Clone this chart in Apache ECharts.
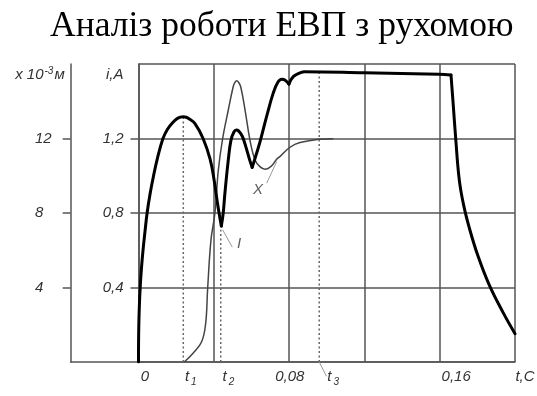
<!DOCTYPE html>
<html>
<head>
<meta charset="utf-8">
<script src="https://cdn.jsdelivr.net/npm/echarts@6.0.0/dist/echarts.min.js"></script>
<style>
  html, body { margin: 0; padding: 0; background: #fff; }
  #chart { width: 537px; height: 396px; }
</style>
</head>
<body>
<div id="chart"></div>
<script>
// --- data ---
const chartTitle = "Аналіз роботи ЕВП з рухомою";

// time axis (s)
const xTickValues = [0, 0.0238, 0.0437, 0.08, 0.096, 0.16, 0.2];
const xTickMain = ["0", "t", "t", "0,08", "t", "0,16", "t,C"];
const xTickSub = ["", "1", "2", "", "3", "", ""];

// current axis (A) and travel axis (x 10^-3 m)
const currentTicks = [0.4, 0.8, 1.2];
const currentTickLabels = ["0,4", "0,8", "1,2"];
const travelTicks = [4, 8, 12];
const travelTickLabels = ["4", "8", "12"];

// current I, [t, A]
const curveI = [
  [0, 0], [0.00003, 0.1], [0.00017, 0.2], [0.00045, 0.3], [0.0009, 0.4],
  [0.00154, 0.5], [0.0024, 0.6], [0.00345, 0.7], [0.00457, 0.8],
  [0.0061, 0.9], [0.008, 1.0], [0.0102, 1.1], [0.013, 1.2],
  [0.0154, 1.25], [0.0181, 1.285], [0.0204, 1.306], [0.0222, 1.315],
  [0.0238, 1.317], [0.0253, 1.314], [0.0268, 1.306], [0.03, 1.28],
  [0.0343, 1.2], [0.038, 1.09], [0.0402, 0.975], [0.042, 0.85],
  [0.044, 0.73], [0.045, 0.8], [0.0459, 0.906], [0.0477, 1.085],
  [0.0491, 1.19], [0.0507, 1.235], [0.052, 1.245], [0.053, 1.242],
  [0.055, 1.215], [0.0566, 1.17], [0.0592, 1.08], [0.0604, 1.045],
  [0.0624, 1.11], [0.0645, 1.18], [0.0681, 1.32], [0.0716, 1.445],
  [0.0741, 1.503], [0.0761, 1.518], [0.0781, 1.512], [0.0799, 1.492],
  [0.0822, 1.532], [0.0858, 1.553], [0.0884, 1.559], [0.1198, 1.553],
  [0.1596, 1.545], [0.166, 1.541], [0.167, 1.407], [0.1685, 1.2],
  [0.1704, 0.978], [0.1728, 0.838], [0.176, 0.71], [0.1803, 0.57],
  [0.1863, 0.414], [0.1937, 0.265], [0.2, 0.152],
];
// cusps of I where the smooth pieces meet
const curveIBreaks = [0.044, 0.0604, 0.0799, 0.166];

// travel X, [t, x10^-3 m / 10]
const curveX = [
  [0.0243, 0], [0.0291, 0.048], [0.0336, 0.11], [0.0357, 0.209],
  [0.0367, 0.388], [0.0385, 0.656], [0.0406, 0.8], [0.0424, 1.03],
  [0.0447, 1.2], [0.0477, 1.353], [0.0503, 1.478], [0.0513, 1.503],
  [0.0522, 1.51], [0.0531, 1.503], [0.0543, 1.478], [0.0566, 1.353],
  [0.0592, 1.192], [0.0619, 1.085], [0.0645, 1.049], [0.0672, 1.035],
  [0.0707, 1.053], [0.0734, 1.089], [0.0751, 1.103], [0.0805, 1.153],
  [0.0858, 1.178], [0.096, 1.196], [0.1035, 1.199],
];

// dotted markers t1, t2, t3
const tMarks = [0.0238, 0.0437, 0.096];
const tMarkTops = [1.317, 0.71, 1.555];

// leader lines and curve names
const leaderLines = [
  [[0.0447, 0.71], [0.0498, 0.617]],
  [[0.0681, 0.96], [0.0734, 1.076]],
  [[0.096, 0], [0.0999, -0.077]],
];
const curveNames = ["I", "X"];
const curveNamePos = [[0.0534, 0.635], [0.0635, 0.927]];

// --- styling ---
const FONT = "Liberation Sans";
const GRID_COLOR = "#555";
const TEXT_COLOR = "#333";
const xLabelShift = [6.5, 7.5, 7.7, 0.7, 14, 16.5, 10];

const textBase = {
  fontFamily: FONT,
  fontStyle: "italic",
  fontSize: 15,
  color: TEXT_COLOR,
};
const lineBase = { color: GRID_COLOR, width: 1.5 };

const xRich = {
  s: { ...textBase, fontSize: 10, lineHeight: 12, verticalAlign: "bottom", padding: [0, 0, 0, 2] },
};
xTickValues.forEach((v, i) => {
  xRich["m" + i] = { ...textBase, lineHeight: 20, padding: [0, 0, 0, 2 * xLabelShift[i]] };
});

function findIndex(list, v) {
  return list.findIndex((d) => Math.abs(d - v) < 1e-9);
}

// split a curve at its cusps so each piece can be smoothed on its own
function splitAt(points, breaks) {
  const pieces = [[]];
  points.forEach((p) => {
    pieces[pieces.length - 1].push(p);
    if (breaks.some((b) => Math.abs(b - p[0]) < 1e-9)) pieces.push([p]);
  });
  return pieces.filter((piece) => piece.length > 1);
}

const chart = echarts.init(document.getElementById("chart"));
chart.setOption({
  animation: false,
  title: {
    text: chartTitle,
    left: 45,
    top: 4,
    textStyle: {
      fontFamily: "Liberation Serif",
      fontSize: 35.5,
      fontWeight: "normal",
      color: "#000",
    },
  },
  grid: [
    { left: 138.5, right: 22, top: 64, bottom: 34, outerBoundsMode: "none" },
    { left: 70.7, width: 67.8, top: 64, bottom: 34, outerBoundsMode: "none" },
  ],
  xAxis: [
    {
      type: "value",
      gridIndex: 0,
      min: 0,
      max: 0.2,
      interval: 0.04,
      axisLine: { show: true, lineStyle: lineBase },
      axisTick: { show: false },
      splitLine: { show: true, lineStyle: lineBase },
      axisLabel: {
        customValues: xTickValues,
        margin: 5,
        formatter: (v) => {
          const i = findIndex(xTickValues, v);
          if (i < 0) return "";
          let s = "{m" + i + "|" + xTickMain[i] + "}";
          if (xTickSub[i]) s += "{s|" + xTickSub[i] + "}";
          return s;
        },
        rich: xRich,
      },
    },
    {
      type: "value",
      gridIndex: 1,
      min: 0,
      max: 1,
      axisLine: { show: true, lineStyle: lineBase },
      axisTick: { show: false },
      axisLabel: { show: false },
      splitLine: { show: false },
    },
  ],
  yAxis: [
    {
      type: "value",
      gridIndex: 0,
      min: 0,
      max: 1.6,
      interval: 0.4,
      name: "i,A",
      nameLocation: "end",
      nameGap: -11,
      nameTextStyle: { ...textBase, align: "right", verticalAlign: "middle", padding: [0, 15, 0, 0] },
      axisLine: { show: true, lineStyle: lineBase },
      axisTick: { show: false },
      splitLine: { show: true, lineStyle: lineBase },
      axisLabel: {
        ...textBase,
        customValues: currentTicks,
        margin: 15,
        padding: [5, 0, 0, 0],
        formatter: (v) => currentTickLabels[findIndex(currentTicks, v)] || "",
      },
    },
    {
      type: "value",
      gridIndex: 1,
      min: 0,
      max: 16,
      name: "{a|x 10}{sup|-3}{a|м}",
      nameLocation: "end",
      nameGap: -11,
      nameTextStyle: {
        align: "right",
        verticalAlign: "middle",
        padding: [0, 6, 0, 0],
        rich: {
          a: { ...textBase, lineHeight: 18 },
          sup: { ...textBase, fontSize: 10, lineHeight: 12, verticalAlign: "top", padding: [0, 1, 0, 1] },
        },
      },
      axisLine: { show: true, lineStyle: lineBase },
      axisTick: { show: true, inside: false, length: 8, customValues: travelTicks, lineStyle: lineBase },
      splitLine: { show: false },
      axisLabel: {
        ...textBase,
        customValues: travelTicks,
        align: "left",
        margin: 35.7,
        padding: [5, 0, 0, 0],
        formatter: (v) => travelTickLabels[findIndex(travelTicks, v)] || "",
      },
    },
    {
      // inner half of the crossing ticks
      type: "value",
      gridIndex: 1,
      min: 0,
      max: 16,
      axisLine: { show: false },
      axisTick: { show: true, inside: true, length: 8, customValues: travelTicks, lineStyle: lineBase },
      splitLine: { show: false },
      axisLabel: { show: false },
    },
  ],
  series: [
    ...tMarks.map((t, i) => ({
      type: "line",
      silent: true,
      showSymbol: false,
      data: [[t, 0], [t, tMarkTops[i]]],
      lineStyle: { color: "#666", width: 1.5, type: [2, 2.5] },
      z: 2,
    })),
    ...leaderLines.map((pts) => ({
      type: "line",
      silent: true,
      showSymbol: false,
      clip: false,
      data: pts,
      lineStyle: { color: "#999", width: 1 },
      z: 2,
    })),
    {
      type: "line",
      name: "X",
      silent: true,
      showSymbol: false,
      smooth: 0.4,
      data: curveX,
      lineStyle: { color: "#444", width: 1.5, join: "round" },
      z: 4,
    },
    ...splitAt(curveI, curveIBreaks).map((piece) => ({
      type: "line",
      name: "I",
      silent: true,
      showSymbol: false,
      smooth: 0.4,
      data: piece,
      lineStyle: { color: "#000", width: 3, join: "round", cap: "round" },
      z: 5,
    })),
    {
      type: "scatter",
      silent: true,
      symbolSize: 0,
      data: curveNamePos.map((p, i) => ({
        value: p,
        label: { show: true, formatter: curveNames[i] },
      })),
      label: { position: "inside", ...textBase },
      z: 6,
    },
  ],
});
</script>
</body>
</html>
